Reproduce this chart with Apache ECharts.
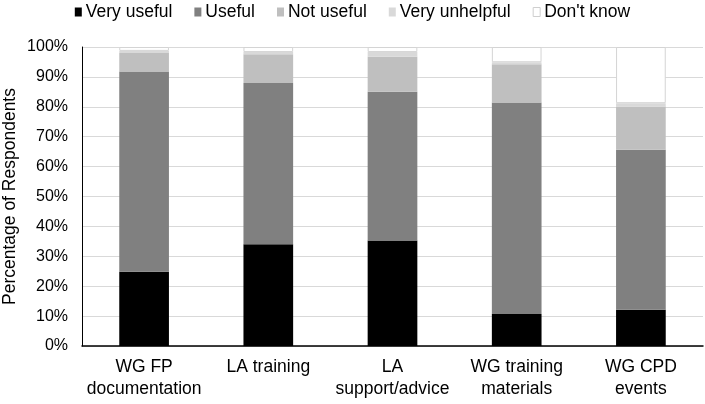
<!DOCTYPE html>
<html>
<head>
<meta charset="utf-8">
<script src="https://cdn.jsdelivr.net/npm/echarts@6/dist/echarts.min.js"></script>
<style>
  html, body { margin: 0; padding: 0; background: #fff; }
  #chart { width: 705px; height: 404px; }
</style>
</head>
<body>
<div id="chart"></div>
<script>
// ---------- data ----------
var categories = ['WG FP\ndocumentation', 'LA training', 'LA\nsupport/advice', 'WG training\nmaterials', 'WG CPD\nevents'];
var veryUseful = [24.8, 34.0, 35.3, 10.7, 12.1];
var useful = [67.0, 54.0, 49.7, 70.7, 53.5];
var notUseful = [6.2, 9.6, 11.7, 12.8, 14.5];
var veryUnhelpful = [0.7, 0.7, 1.6, 0.7, 1.1];
var dontKnow = [1.3, 1.7, 1.7, 5.1, 18.8];
var yTicks = [0, 10, 20, 30, 40, 50, 60, 70, 80, 90, 100];

var font = 'Liberation Sans, Arial, sans-serif';
var chart = echarts.init(document.getElementById('chart'));

function barSeries(name, data, color, border) {
    return {
        name: name,
        type: 'bar',
        stack: 'all',
        barWidth: '40%',
        data: data,
        itemStyle: {
            color: color,
            borderColor: border || color,
            borderWidth: border ? 1 : 0
        },
        emphasis: { disabled: true }
    };
}

var option = {
    animation: false,
    backgroundColor: '#fff',
    textStyle: { fontFamily: font },
    legend: {
        top: -2,
        left: 'center',
        itemWidth: 7,
        itemHeight: 9,
        itemGap: 22,
        icon: 'rect',
        textStyle: { fontFamily: font, fontSize: 17.5, color: '#000', padding: [0, 0, 0, -1] },
        data: [
            { name: 'Very useful' },
            { name: 'Useful' },
            { name: 'Not useful' },
            { name: 'Very unhelpful' },
            { name: "Don't know", itemStyle: { color: '#fff', borderColor: '#cfcfcf', borderWidth: 1 } }
        ]
    },
    grid: {
        left: 82,
        right: 2,
        top: 47,
        bottom: 58,
        outerBoundsMode: 'none',
        containLabel: false
    },
    xAxis: {
        type: 'category',
        data: categories,
        axisLine: { lineStyle: { color: '#000', width: 1.5 } },
        axisTick: { show: false },
        axisLabel: {
            fontFamily: font,
            fontSize: 17.5,
            color: '#000',
            lineHeight: 22,
            margin: 10,
            interval: 0
        }
    },
    yAxis: {
        type: 'value',
        min: yTicks[0],
        max: yTicks[yTicks.length - 1],
        interval: 10,
        name: 'Percentage of Respondents',
        nameLocation: 'middle',
        nameGap: 63,
        nameMoveOverlap: false,
        nameTextStyle: { fontFamily: font, fontSize: 17.5, color: '#000' },
        axisLine: { show: true, lineStyle: { color: '#000', width: 1 } },
        axisTick: { show: false },
        axisLabel: {
            fontFamily: font,
            fontSize: 16,
            color: '#000',
            margin: 14,
            formatter: '{value}%'
        },
        splitLine: { lineStyle: { color: '#d9d9d9', width: 1 } }
    },
    series: [
        barSeries('Very useful', veryUseful, '#000000'),
        barSeries('Useful', useful, '#808080'),
        barSeries('Not useful', notUseful, '#bfbfbf'),
        barSeries('Very unhelpful', veryUnhelpful, '#d9d9d9'),
        barSeries("Don't know", dontKnow, '#ffffff', '#d4d4d4')
    ]
};

chart.setOption(option);
</script>
</body>
</html>
